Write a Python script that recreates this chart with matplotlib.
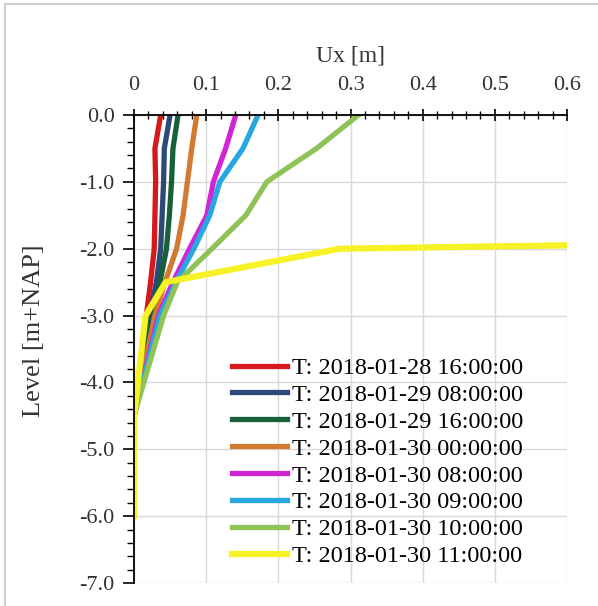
import numpy as np
import matplotlib
matplotlib.use('Agg')
import matplotlib.pyplot as plt
from matplotlib.ticker import MultipleLocator, FormatStrFormatter
from matplotlib.lines import Line2D

plt.rcParams['font.family'] = ['Liberation Serif', 'DejaVu Serif']
plt.rcParams['axes.unicode_minus'] = False

# 深度 (m+NAP)
levels = [0.0, -0.5, -1.0, -1.5, -2.0, -2.5, -3.0, -4.5, -6.0]

# 各时刻的水平位移 Ux (m)
ux_0128_16 = [0.037, 0.029, 0.030, 0.029, 0.028, 0.023, 0.017, 0.0, 0.0]
ux_0129_08 = [0.050, 0.042, 0.041, 0.039, 0.037, 0.031, 0.022, 0.0, 0.0]
ux_0129_16 = [0.061, 0.054, 0.052, 0.049, 0.045, 0.036, 0.025, 0.0, 0.0]
ux_0130_00 = [0.087, 0.080, 0.074, 0.068, 0.059, 0.043, 0.029, 0.0, 0.0]
ux_0130_08 = [0.141, 0.127, 0.110, 0.101, 0.077, 0.054, 0.034, 0.0, 0.0]
ux_0130_09 = [0.172, 0.151, 0.119, 0.105, 0.083, 0.058, 0.036, 0.0, 0.0]
ux_0130_10 = [0.311, 0.253, 0.184, 0.155, 0.108, 0.060, 0.041, 0.0, 0.0]
ux_0130_11 = [np.nan, np.nan, np.nan, 3.4, 0.285, 0.044, 0.016, 0.0, 0.0]

series = [ux_0128_16, ux_0129_08, ux_0129_16, ux_0130_00,
          ux_0130_08, ux_0130_09, ux_0130_10, ux_0130_11]
labels = ['T: 2018-01-28 16:00:00', 'T: 2018-01-29 08:00:00',
          'T: 2018-01-29 16:00:00', 'T: 2018-01-30 00:00:00',
          'T: 2018-01-30 08:00:00', 'T: 2018-01-30 09:00:00',
          'T: 2018-01-30 10:00:00', 'T: 2018-01-30 11:00:00']
colors = ['#d7191c', '#2b4a78', '#17603a', '#d27b30',
          '#d223d6', '#27a6df', '#8fc257', '#f6f225']
widths = [3.8, 3.8, 3.8, 3.8, 3.8, 3.8, 3.8, 4.5]

fig = plt.figure(figsize=(5.98, 6.06), dpi=100)
ax = fig.add_axes([134/598, 1-583/606, (567-134)/598, (583-115)/606])

for x, lab, c, w in zip(series, labels, colors, widths):
    ax.plot(x, levels, color=c, lw=w, label=lab, solid_joinstyle='round')

ax.set_xlim(0, 0.6)
ax.set_ylim(-7, 0)
ax.xaxis.set_major_locator(MultipleLocator(0.1))
ax.xaxis.set_minor_locator(MultipleLocator(0.02))
ax.yaxis.set_major_locator(MultipleLocator(1.0))
ax.yaxis.set_minor_locator(MultipleLocator(0.2))
ax.yaxis.set_major_formatter(FormatStrFormatter('%.1f'))
ax.set_xticks([0, 0.1, 0.2, 0.3, 0.4, 0.5, 0.6])
ax.set_xticklabels(['0', '0.1', '0.2', '0.3', '0.4', '0.5', '0.6'])

ax.xaxis.tick_top()
ax.xaxis.set_label_position('top')
ax.tick_params(axis='x', which='major', direction='inout', length=9, width=1.2,
               labelsize=16, pad=10, colors='black')
ax.tick_params(axis='x', which='minor', direction='inout', length=6, width=1.0)
ax.tick_params(axis='y', which='major', direction='out', length=8, width=1.2,
               labelsize=16, pad=6)
ax.tick_params(axis='y', which='minor', direction='out', length=5, width=1.0)
for lab in ax.get_xticklabels() + ax.get_yticklabels():
    lab.set_color('#333333')

ax.spines['right'].set_visible(False)
ax.spines['bottom'].set_visible(False)
ax.spines['left'].set_linewidth(1.3)
ax.spines['top'].set_linewidth(1.3)
ax.grid(True, which='major', color='#d9d9d9', lw=1.0)
ax.set_axisbelow(True)

ax.set_xlabel('Ux [m]', fontsize=17, labelpad=10, color='#333333')
ax.set_ylabel('Level [m+NAP]', fontsize=19, labelpad=14, color='#333333')
ax.yaxis.set_label_coords(-0.205, 0.54)

ax.legend(loc='upper left', bbox_to_anchor=(232/598, 1-357/606),
          bbox_transform=fig.transFigure, frameon=False, fontsize=17.5,
          handlelength=2.25, handletextpad=0.2, labelspacing=0.2,
          borderpad=0, borderaxespad=0)

# 页面边框
fig.add_artist(Line2D([5/598, 5/598], [0, 1-4/606], color='#cfcfcf', lw=1.5,
                      transform=fig.transFigure))
fig.add_artist(Line2D([5/598, 1], [1-4/606, 1-4/606], color='#cfcfcf', lw=1.5,
                      transform=fig.transFigure))

fig.savefig('out.png', dpi=100)
